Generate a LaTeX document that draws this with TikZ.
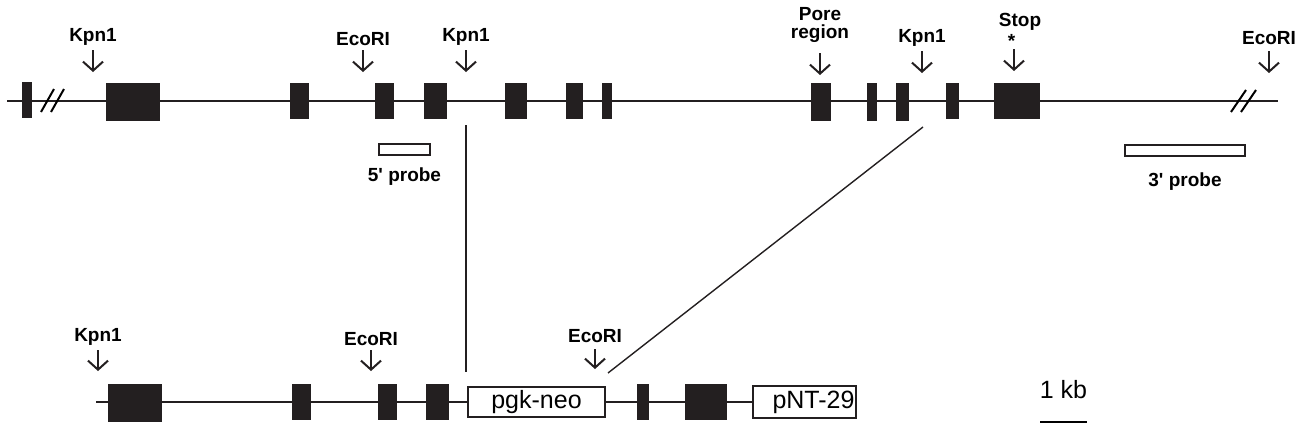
\documentclass[tikz,border=0pt]{standalone}
\usepackage{fontspec}
\setmainfont{Liberation Sans}
\usepackage{tikz}
\usetikzlibrary{calc}
\usetikzlibrary{positioning,arrows.meta}
\newcommand{\NameKpn}{Kpn1}
\newcommand{\NameEco}{EcoRI}
\definecolor{exonc}{HTML}{231F20}

\begin{document}
\begin{tikzpicture}[x=0.5pt,y=-0.5pt,>={Straight Barb[length=4.5pt,width=10pt]},
  exon/.style={fill=exonc,inner sep=0pt,minimum height=18pt},
  frag/.style={draw=exonc,fill=white,line width=1pt,inner sep=0pt,font=\fontsize{12.5}{12.5}\selectfont},
  probe/.style={draw=exonc,line width=1.2pt,inner sep=0pt,minimum height=5.5pt},
  site/.style={font=\bfseries\fontsize{9.5}{9.5}\selectfont,inner sep=0pt,align=center},
  cut/.style={->,line width=1pt,draw=exonc},
  dna/.style={line width=1.3pt,draw=exonc},
  arm/.style={line width=0.7pt,draw=exonc}]

  \useasboundingbox (0,0) rectangle (1298,434);

  % genomic locus
  \coordinate (g0) at (7,101);
  \coordinate (g1) at (1278,101);
  \draw[dna] (g0) -- (g1);
  \coordinate (sl) at (54,101);
  \coordinate (sr) at (1244,101);
  \draw[line width=1pt] (sl) ++(-13,11) -- ++(13,-23);
  \draw[line width=1pt] (sl) ++(-3,11) -- ++(13,-23);
  \draw[line width=1pt] (sr) ++(-13,11) -- ++(15,-22);
  \draw[line width=1pt] (sr) ++(-3,11) -- ++(15,-22);

  \node[exon,minimum width=5pt] (t1) at (27,100) {};
  \node[exon,minimum width=27pt,minimum height=19pt] (t2) at (133,102) {};
  \node[exon,minimum width=9.5pt] (t3) at (299.5,101) {};
  \node[exon,minimum width=9.5pt] (t4) at (384.5,101) {};
  \node[exon,minimum width=11.5pt] (t5) at (435.5,101) {};
  \node[exon,minimum width=11pt] (t6) at (516,101) {};
  \node[exon,minimum width=8.5pt] (t7) at (574.5,101) {};
  \node[exon,minimum width=5pt] (t8) at (607,101) {};
  \node[exon,minimum width=10pt,minimum height=19pt] (t9) at (821,102) {};
  \node[exon,minimum width=5pt,minimum height=19pt] (t10) at (872,102) {};
  \node[exon,minimum width=6.5pt,minimum height=19pt] (t11) at (902.5,102) {};
  \node[exon,minimum width=6.5pt] (t12) at (952.5,101) {};
  \node[exon,minimum width=23pt] (t13) at (1017,101) {};

  % sites on the locus
  \coordinate (k1) at (93,50);
  \coordinate (e1) at (363,50);
  \coordinate (k2) at (466,50);
  \coordinate (pr) at (820,53);
  \coordinate (k3) at (922,51);
  \coordinate (st) at (1014,49);
  \coordinate (e2) at (1269,51);
  \draw[cut] (k1) -- ++(0,22);
  \draw[cut] (e1) -- ++(0,22);
  \draw[cut] (k2) -- ++(0,22);
  \draw[cut] (pr) -- ++(0,22);
  \draw[cut] (k3) -- ++(0,22);
  \draw[cut] (st) -- ++(0,22);
  \draw[cut] (e2) -- ++(0,22);
  \node[site,above=2pt of k1] (k1l) {\NameKpn};
  \node[site,above=2pt of e1] (e1l) {\NameEco};
  \node[site,above=2pt of k2] (k2l) {\NameKpn};
  \node[site,above=5pt of pr] (prl) {Pore\\[-0.5pt]region};
  \node[site,above=2pt of k3] (k3l) {\NameKpn};
  \node[site,align=left,above=0.5pt of st,xshift=3pt] (stl) {Stop\\[1pt]\hspace*{4.5pt}*};
  \node[site,above=3pt of e2] (e2l) {\NameEco};

  % probes
  \node[probe,minimum width=25.5pt] (p5) at (404.5,149.5) {};
  \node[probe,minimum width=60pt] (p3) at (1185,150.5) {};
  \node[site,below=5.5pt of p5] (p5l) {5\textquotesingle{} probe};
  \node[site,below=7.5pt of p3] (p3l) {3\textquotesingle{} probe};

  % targeted allele
  \coordinate (a0) at (96,402);
  \coordinate (a1) at (752,402);
  \draw[dna] (a0) -- (a1);
  \node[exon,minimum width=27pt,minimum height=19pt] (b1) at (135,403) {};
  \node[exon,minimum width=9.5pt] (b2) at (301.5,402) {};
  \node[exon,minimum width=9.5pt] (b3) at (387.5,402) {};
  \node[exon,minimum width=11.5pt] (b4) at (437.5,402) {};
  \node[frag,minimum width=68.5pt,minimum height=15pt] (neo) at (536.5,402) {pgk-neo};
  \node[exon,minimum width=6pt] (b5) at (643,402) {};
  \node[exon,minimum width=21pt] (b6) at (706,402) {};
  \node[frag,minimum width=51.5pt,minimum height=16pt,anchor=west] (pnt) at (a1) {\hspace*{9pt}pNT-29};

  \coordinate (k4) at (98,350);
  \coordinate (e3) at (371,350);
  \coordinate (e4) at (595,349);
  \draw[cut] (k4) -- ++(0,21);
  \draw[cut] (e3) -- ++(0,21);
  \draw[cut] (e4) -- ++(0,20);
  \node[site,above=2pt of k4] (k4l) {\NameKpn};
  \node[site,above=2pt of e3] (e3l) {\NameEco};
  \node[site,above=3pt of e4] (e4l) {\NameEco};

  % recombination arms
  \coordinate (vt) at (466,125);
  \coordinate (vb) at (466,372);
  \coordinate (dt) at (923,127);
  \coordinate (db) at (608,373);
  \draw[arm] (vt) -- (vb);
  \draw[arm] (dt) -- (db);

  % scale
  \coordinate (kb0) at (1040,422);
  \coordinate (kb1) at (1087,422);
  \draw[line width=1.1pt] (kb0) -- (kb1);
  \node[inner sep=0pt,font=\fontsize{12.5}{12.5}\selectfont,above=11.5pt of $(kb0)!.5!(kb1)$] (kbl) {1 kb};

\end{tikzpicture}
\end{document}
